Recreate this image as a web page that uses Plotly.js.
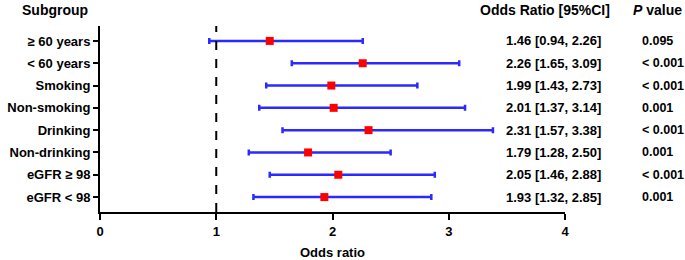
<!DOCTYPE html>
<html><head><meta charset="utf-8">
<script src="https://cdn.plot.ly/plotly-3.0.1.min.js"></script>
<style>body{margin:0;background:#fff}</style></head>
<body><div id="chart" style="width:685px;height:260px"></div>
<script>
const subgroups = ["≥ 60 years", "< 60 years", "Smoking", "Non-smoking", "Drinking", "Non-drinking", "eGFR ≥ 98", "eGFR < 98"];
const oddsRatio = [1.46, 2.26, 1.99, 2.01, 2.31, 1.79, 2.05, 1.93];
const ciLow = [0.94, 1.65, 1.43, 1.37, 1.57, 1.28, 1.46, 1.32];
const ciHigh = [2.26, 3.09, 2.73, 3.14, 3.38, 2.50, 2.88, 2.85];
const pValues = ["0.095", "< 0.001", "< 0.001", "0.001", "< 0.001", "0.001", "< 0.001", "0.001"];
const xTicks = [0, 1, 2, 3, 4];

const n = subgroups.length;
const yPos = subgroups.map((_, i) => n - i);
const F = "Liberation Sans, Arial, sans-serif";
const tf = {family: F, size: 13, color: "#000", weight: "bold"};

const traces = [{
  type: "scatter", mode: "markers",
  x: oddsRatio, y: yPos,
  marker: {symbol: "square", size: 8, color: "#ff0000"},
  error_x: {type: "data", symmetric: false,
    array: oddsRatio.map((v, i) => ciHigh[i] - v),
    arrayminus: oddsRatio.map((v, i) => v - ciLow[i]),
    color: "#2a2aff", thickness: 2.5, width: 3},
  hoverinfo: "skip", showlegend: false
}];

const ann = [];
subgroups.forEach((s, i) => {
  ann.push({xref: "paper", yref: "y", x: 0.869, y: yPos[i], xanchor: "left", yanchor: "middle",
    text: oddsRatio[i].toFixed(2) + " [" + ciLow[i].toFixed(2) + ", " + ciHigh[i].toFixed(2) + "]",
    showarrow: false, font: tf});
  ann.push({xref: "paper", yref: "y", x: 1.161, y: yPos[i], xanchor: "left", yanchor: "middle",
    text: pValues[i], showarrow: false, font: {family: F, size: 12.5, color: "#000", weight: "bold"}});
});
ann.push({xref: "paper", yref: "paper", x: -0.0968, y: 1.085, xanchor: "center", yanchor: "middle",
  text: "Subgroup", showarrow: false, font: {family: F, size: 14, color: "#000", weight: "bold"}});
ann.push({xref: "paper", yref: "paper", x: 1.101, y: 1.085, xanchor: "right", yanchor: "middle",
  text: "Odds Ratio [95%CI]", showarrow: false, font: {family: F, size: 14, color: "#000", weight: "bold"}});
ann.push({xref: "paper", yref: "paper", x: 1.142, y: 1.085, xanchor: "left", yanchor: "middle",
  text: "<i>P</i> value", showarrow: false, font: {family: F, size: 14, color: "#000", weight: "bold"}});

const layout = {
  width: 685, height: 260,
  margin: {l: 100, r: 120, t: 26, b: 48},
  paper_bgcolor: "#fff", plot_bgcolor: "#fff",
  xaxis: {range: [0, 4], tickvals: xTicks, ticktext: xTicks.map(String),
    showgrid: false, zeroline: false, showline: true, linecolor: "#000", linewidth: 2,
    ticks: "outside", ticklen: 6, tickwidth: 2, tickcolor: "#000",
    tickfont: tf, title: {text: "Odds ratio", font: tf, standoff: 10}},
  yaxis: {range: [0.33, n + 0.67], tickvals: yPos, ticktext: subgroups,
    showgrid: false, zeroline: false, showline: true, linecolor: "#000", linewidth: 2,
    ticks: "outside", ticklen: 5, tickwidth: 2, tickcolor: "#000", tickfont: tf},
  shapes: [{type: "line", xref: "x", yref: "paper", x0: 1, x1: 1, y0: 0, y1: 1,
    line: {color: "#000", width: 2, dash: "dash"}}],
  annotations: ann
};
Plotly.newPlot("chart", traces, layout, {displayModeBar: false, staticPlot: true});
</script></body></html>
